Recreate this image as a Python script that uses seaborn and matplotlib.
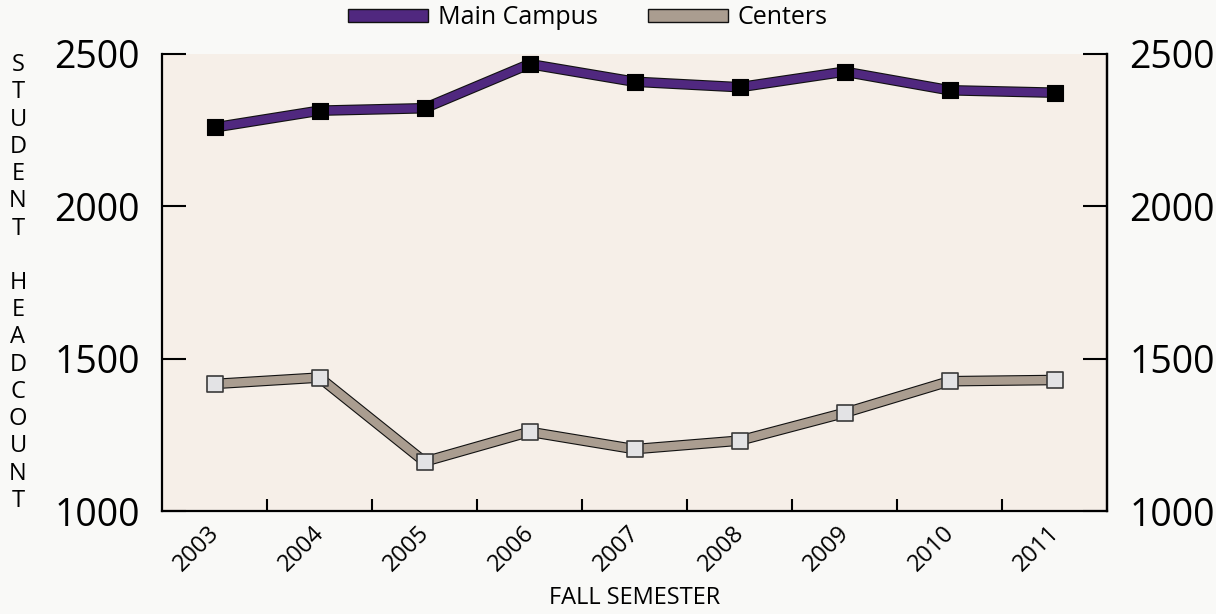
import matplotlib
matplotlib.use("Agg")
import matplotlib.pyplot as plt
import matplotlib.patheffects as pe
import matplotlib.transforms as mtransforms
from matplotlib.patches import Patch
from matplotlib.ticker import FixedLocator
import seaborn as sns
import pandas as pd

years = ["2003", "2004", "2005", "2006", "2007", "2008", "2009", "2010", "2011"]
main_campus = [2259, 2314, 2322, 2467, 2409, 2391, 2442, 2381, 2373]
centers = [1417, 1438, 1162, 1260, 1203, 1231, 1322, 1426, 1430]
series_names = ["Main Campus", "Centers"]
y_ticks = [1000, 1500, 2000, 2500]

sns.set_theme(style="white")
plt.rcParams["font.family"] = ["Open Sans", "DejaVu Sans"]
plt.rcParams["text.color"] = "black"
plt.rcParams["xtick.color"] = "black"
plt.rcParams["ytick.color"] = "black"
plt.rcParams["axes.labelcolor"] = "black"

df = pd.DataFrame({
    "year": years * 2,
    "count": main_campus + centers,
    "series": [series_names[0]] * len(years) + [series_names[1]] * len(years),
})

PURPLE = "#50287f"
BEIGE = "#aa9d90"
fig = plt.figure(figsize=(12.16, 6.14), dpi=100)
fig.patch.set_facecolor("#f9f9f7")
ax = fig.add_axes([162 / 1216, 1 - 511 / 614, (1107 - 162) / 1216, (511 - 54) / 614])
ax.set_facecolor("#f6efe8")

sns.lineplot(data=df, x="year", y="count", hue="series", hue_order=series_names,
             palette=[PURPLE, BEIGE], linewidth=6.0, legend=False, ax=ax, sort=False)
for ln in ax.lines:
    ln.set_path_effects([pe.Stroke(linewidth=7.6, foreground="#111111"), pe.Normal()])
    ln.set_solid_joinstyle("miter")

d_main = df[df["series"] == series_names[0]]
d_cent = df[df["series"] == series_names[1]]
sns.scatterplot(data=d_main, x="year", y="count", marker="s", s=125, color="black",
                edgecolor="black", linewidth=0.8, ax=ax, legend=False, zorder=5)
sns.scatterplot(data=d_cent, x="year", y="count", marker="s", s=125, color="#e3e3e5",
                edgecolor="#3a3a3a", linewidth=1.2, ax=ax, legend=False, zorder=5)

ax.set_xlim(-0.5, len(years) - 0.5)
ax.set_ylim(1000, 2500)
ax.set_yticks(y_ticks)
ax.set_yticklabels([str(v) for v in y_ticks], fontsize=27)
ax.tick_params(axis="y", direction="in", length=17, width=1.5, color="black", pad=16, left=True)
ax.set_xticks(range(len(years)))
ax.set_xticklabels(years, rotation=45, ha="right", va="top", fontsize=17)
ax.tick_params(axis="x", which="major", length=0, pad=7)
ax.xaxis.set_minor_locator(FixedLocator([i + 0.5 for i in range(len(years) - 1)]))
ax.tick_params(axis="x", which="minor", direction="in", length=9, width=1.5, color="black", bottom=True)
offset = mtransforms.ScaledTranslation(10 / 100, 0, fig.dpi_scale_trans)
for lab in ax.get_xticklabels():
    lab.set_transform(lab.get_transform() + offset)

ax.set_xlabel("FALL SEMESTER", fontsize=17, labelpad=7)
ax.set_ylabel("")
for s in ["left", "right", "bottom"]:
    ax.spines[s].set_visible(True)
    ax.spines[s].set_color("black")
    ax.spines[s].set_linewidth(1.6)
ax.spines["top"].set_visible(False)

ax2 = ax.twinx()
ax2.set_ylim(1000, 2500)
ax2.set_yticks(y_ticks)
ax2.set_yticklabels([str(v) for v in y_ticks], fontsize=27)
ax2.tick_params(axis="y", direction="in", length=17, width=1.5, color="black", pad=16, right=True)
for s in ["left", "top", "bottom"]:
    ax2.spines[s].set_visible(False)
ax2.spines["right"].set_linewidth(1.6)
ax2.spines["right"].set_color("black")
ax2.grid(False)
ax.grid(False)

fig.text(18 / 1216, 1 - 283 / 614, "\n".join("STUDENT") + "\n\n" + "\n".join("HEADCOUNT"),
         fontsize=17, ha="center", va="center", linespacing=1.18)

handles = [Patch(facecolor=PURPLE, edgecolor="#111111", linewidth=1.0),
           Patch(facecolor=BEIGE, edgecolor="#111111", linewidth=1.0)]
fig.legend(handles, series_names, loc="center", bbox_to_anchor=(588 / 1216, 1 - 18 / 614),
           ncol=2, frameon=False, fontsize=18, handlelength=3.2, handleheight=0.4,
           handletextpad=0.4, columnspacing=2.0, borderpad=0.0)

fig.savefig("out.png", dpi=100, facecolor=fig.get_facecolor())
